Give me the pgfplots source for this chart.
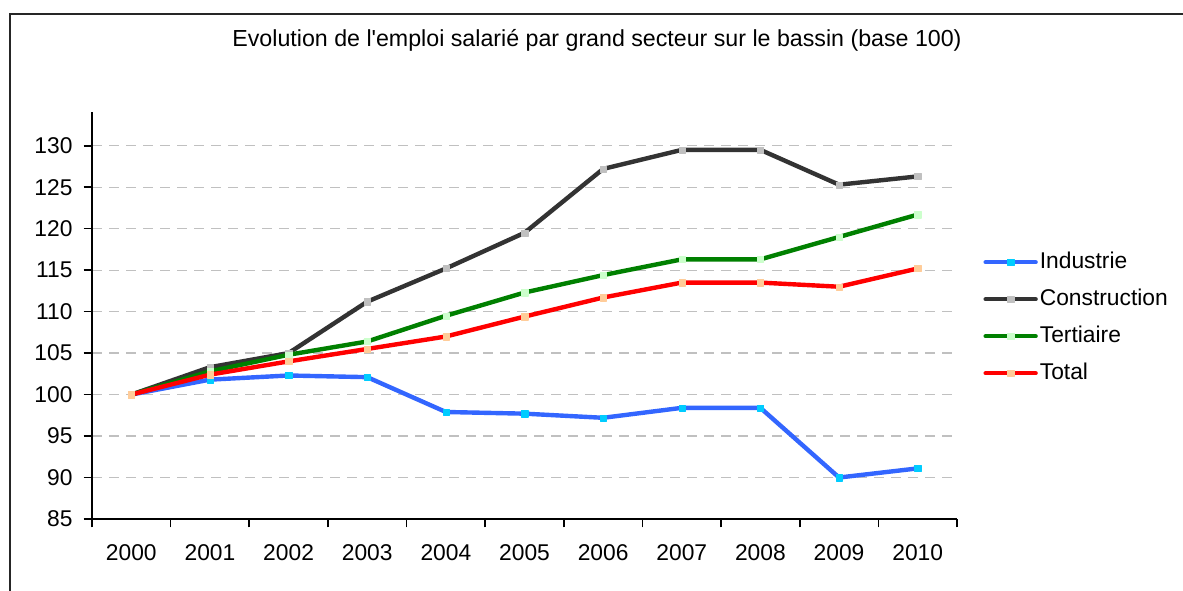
\documentclass[border=0pt]{standalone}
\usepackage{fontspec}
\setmainfont{Liberation Sans}
\usepackage{pgfplots}
\usepackage{pgfplotstable}
\pgfplotsset{compat=1.18}
\definecolor{cInd}{HTML}{3366FF}
\definecolor{cIndM}{HTML}{00CCFF}
\definecolor{cCon}{HTML}{333333}
\definecolor{cConM}{HTML}{C0C0C0}
\definecolor{cTer}{HTML}{008000}
\definecolor{cTerM}{HTML}{CCFFCC}
\definecolor{cTot}{HTML}{FF0000}
\definecolor{cTotM}{HTML}{FFCC99}
\pgfplotstableread{
x ind con ter tot
0 100.0 100.0 100.0 100.0
1 101.8 103.3 102.8 102.4
2 102.3 105.0 104.8 104.0
3 102.1 111.2 106.4 105.5
4 97.9 115.2 109.5 107.0
5 97.7 119.5 112.3 109.4
6 97.2 127.2 114.4 111.7
7 98.4 129.5 116.3 113.5
8 98.4 129.5 116.3 113.5
9 90.0 125.3 119.0 113.0
10 91.1 126.3 121.7 115.2
}\datatable
\newcommand{\fs}{\fontsize{11.4}{13.5}\selectfont}
\begin{document}
\begin{tikzpicture}
\useasboundingbox (0,0) rectangle (591.5pt,295pt);
\draw[line width=1pt, black!85] (5pt,-20pt) -- (5pt,287.9pt) -- (620pt,287.9pt);
\node[font=\fontsize{11.6}{13.5}\selectfont, inner sep=0pt] at (298.5pt,275pt) {Evolution de l\textquotesingle emploi salarié par grand secteur sur le bassin (base 100)};
\begin{axis}[
  at={(46pt,35.5pt)}, anchor=south west,
  scale only axis, width=432.5pt, height=203.65pt,
  xmin=-0.5, xmax=10.5, ymin=85, ymax=134.1,
  axis x line*=bottom, axis y line*=left,
  axis line style={black, line width=0.8pt},
  ytick={85,90,...,130},
  ymajorgrids,
  grid style={cConM, line width=0.6pt, dash pattern=on 5pt off 3.5pt},
  xtick={-0.5,0.5,...,10.5},
  xticklabels={2000,2001,2002,2003,2004,2005,2006,2007,2008,2009,2010,{}},
  xticklabel style={xshift=19.66pt, yshift=-5pt},
  yticklabel style={xshift=-2pt},
  tick style={black, line width=0.8pt},
  tick align=outside, major tick length=4.2pt,
  tick label style={font=\fs},
  /pgf/number format/assume math mode=true,
  every axis plot/.append style={line width=2.2pt, line join=round, line cap=round, mark=square*, mark size=1.55pt},
  legend style={at={(1.0301,0.494)}, anchor=west, draw=none, fill=none, inner sep=0pt, font=\fs,
     row sep=5.5pt, nodes={inner sep=1pt, text height=8.5pt, text depth=2.5pt}},
  legend cell align=left,
  legend image code/.code={\draw[mark repeat=2,mark phase=2] plot coordinates {(0pt,0pt) (12.5pt,0pt) (25pt,0pt)};},
]
\addplot[cInd, mark options={draw=cIndM, fill=cIndM, line width=0.1pt}] table[x=x,y=ind]{\datatable};
\addlegendentry{Industrie}
\addplot[cCon, mark options={draw=cConM, fill=cConM, line width=0.1pt}] table[x=x,y=con]{\datatable};
\addlegendentry{Construction}
\addplot[cTer, mark options={draw=cTerM, fill=cTerM, line width=0.1pt}] table[x=x,y=ter]{\datatable};
\addlegendentry{Tertiaire}
\addplot[cTot, mark options={draw=cTotM, fill=cTotM, line width=0.1pt}] table[x=x,y=tot]{\datatable};
\addlegendentry{Total}
\end{axis}
\end{tikzpicture}
\end{document}
